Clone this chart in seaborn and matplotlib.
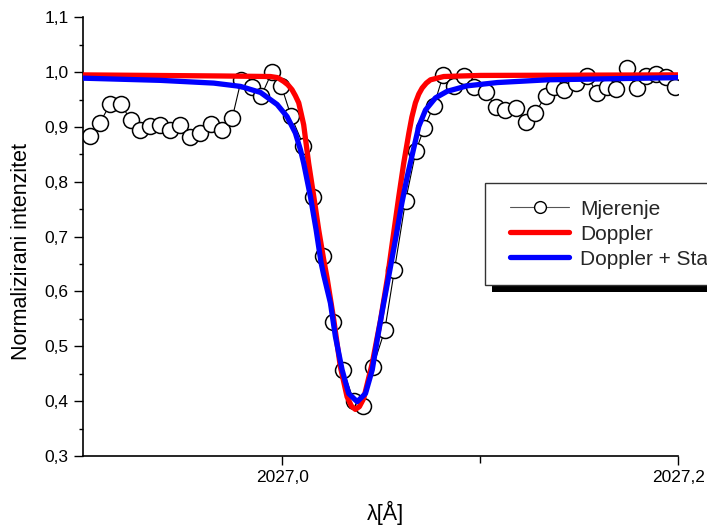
import numpy as np
import matplotlib
matplotlib.use('Agg')
import matplotlib.pyplot as plt
from matplotlib.ticker import FixedLocator, FuncFormatter
from matplotlib.patches import Rectangle
from matplotlib.lines import Line2D
from matplotlib.legend_handler import HandlerLine2D
import seaborn as sns

# measured points (Mjerenje)
lam_meas = [2026.9028, 2026.9079, 2026.9133, 2026.9187, 2026.9237, 2026.9284, 2026.9331, 2026.9382,
            2026.9432, 2026.9483, 2026.9533, 2026.9584, 2026.9640, 2026.9697, 2026.9748, 2026.9793,
            2026.9846, 2026.9894, 2026.9950, 2026.9997, 2027.0045, 2027.0108, 2027.0157, 2027.0207,
            2027.0256, 2027.0308, 2027.0362, 2027.0407, 2027.0458, 2027.0518, 2027.0567, 2027.0623,
            2027.0676, 2027.0717, 2027.0766, 2027.0813, 2027.0869, 2027.0917, 2027.0968, 2027.1027,
            2027.1080, 2027.1125, 2027.1181, 2027.1229, 2027.1279, 2027.1330, 2027.1373, 2027.1423,
            2027.1484, 2027.1539, 2027.1590, 2027.1638, 2027.1688, 2027.1739, 2027.1789, 2027.1837,
            2027.1885, 2027.1938, 2027.1981]
int_meas = [0.884, 0.907, 0.942, 0.941, 0.912, 0.895, 0.902, 0.904, 0.895, 0.904,
            0.882, 0.889, 0.906, 0.895, 0.916, 0.985, 0.972, 0.956, 1.001, 0.974,
            0.920, 0.866, 0.773, 0.665, 0.545, 0.457, 0.400, 0.391, 0.462, 0.529,
            0.639, 0.765, 0.857, 0.898, 0.939, 0.994, 0.975, 0.993, 0.972, 0.963,
            0.936, 0.931, 0.934, 0.909, 0.926, 0.957, 0.972, 0.967, 0.980, 0.993,
            0.962, 0.973, 0.969, 1.007, 0.971, 0.993, 0.996, 0.991, 0.973]

# Doppler fit (red)
lam_dop = [2026.8995, 2026.9690, 2026.9941, 2026.9977, 2027.0008, 2027.0029, 2027.0050, 2027.0067,
           2027.0084, 2027.0096, 2027.0109, 2027.0134, 2027.0160, 2027.0185, 2027.0210, 2027.0227,
           2027.0261, 2027.0294, 2027.0328, 2027.0350, 2027.0370, 2027.0390, 2027.0412, 2027.0455,
           2027.0497, 2027.0532, 2027.0556, 2027.0589, 2027.0614, 2027.0640, 2027.0655, 2027.0673,
           2027.0690, 2027.0707, 2027.0728, 2027.0749, 2027.0816, 2027.0906, 2027.1002, 2027.2000]
int_dop = [0.995, 0.993, 0.992, 0.990, 0.983, 0.977, 0.968, 0.957,
           0.944, 0.925, 0.904, 0.834, 0.773, 0.712, 0.658, 0.625,
           0.548, 0.463, 0.408, 0.391, 0.385, 0.390, 0.405, 0.469,
           0.548, 0.625, 0.688, 0.773, 0.834, 0.889, 0.918, 0.944,
           0.960, 0.971, 0.980, 0.986, 0.992, 0.993, 0.994, 0.995]

# Doppler + Stark fit (blue)
lam_voigt = [2026.8995, 2026.9386, 2026.9655, 2026.9790, 2026.9891, 2026.9975, 2027.0025, 2027.0067,
             2027.0093, 2027.0109, 2027.0143, 2027.0172, 2027.0197, 2027.0210, 2027.0244, 2027.0269,
             2027.0303, 2027.0336, 2027.0379, 2027.0421, 2027.0455, 2027.0483, 2027.0513, 2027.0544,
             2027.0575, 2027.0604, 2027.0632, 2027.0665, 2027.0690, 2027.0724, 2027.0774, 2027.0833,
             2027.0934, 2027.1086, 2027.1339, 2027.2000]
int_voigt = [0.989, 0.985, 0.980, 0.974, 0.963, 0.941, 0.919, 0.889,
             0.858, 0.834, 0.773, 0.712, 0.652, 0.630, 0.579, 0.518,
             0.457, 0.414, 0.399, 0.414, 0.457, 0.518, 0.579, 0.639,
             0.700, 0.760, 0.810, 0.862, 0.901, 0.931, 0.953, 0.965,
             0.975, 0.981, 0.986, 0.990]

x_ticks = [2027.0, 2027.2]
x_minor = [2027.1]
y_ticks = [0.3, 0.4, 0.5, 0.6, 0.7, 0.8, 0.9, 1.0, 1.1]
y_minor = [0.35, 0.45, 0.55, 0.65, 0.75, 0.85, 0.95, 1.05]
labels = ['Mjerenje', 'Doppler', 'Doppler + Stark']

sns.set_theme(style='ticks')
plt.rcParams['font.family'] = ['Liberation Sans', 'DejaVu Sans']
plt.rcParams['axes.linewidth'] = 1.2

fig = plt.figure(figsize=(7.07, 5.30), dpi=100)
ax = fig.add_axes([83 / 707, 74 / 530, 595.3 / 707, 438.7 / 530])

sns.lineplot(x=lam_meas, y=int_meas, ax=ax, sort=False, estimator=None,
             color='black', linewidth=0.8, marker='o', markersize=11.5,
             markerfacecolor='white', markeredgecolor='black', markeredgewidth=1.1,
             zorder=2)
sns.lineplot(x=lam_dop, y=int_dop, ax=ax, sort=False, estimator=None,
             color='#ff0000', linewidth=3.8, zorder=3)
sns.lineplot(x=lam_voigt, y=int_voigt, ax=ax, sort=False, estimator=None,
             color='#0000ff', linewidth=3.8, zorder=4)

ax.set_xlim(2026.8995, 2027.2)
ax.set_ylim(0.3, 1.1)
sns.despine(ax=ax)
for s in ['left', 'bottom']:
    ax.spines[s].set_color('black')

comma = FuncFormatter(lambda v, p: f'{v:.1f}'.replace('.', ','))
ax.xaxis.set_major_locator(FixedLocator(x_ticks))
ax.xaxis.set_minor_locator(FixedLocator(x_minor))
ax.yaxis.set_major_locator(FixedLocator(y_ticks))
ax.yaxis.set_minor_locator(FixedLocator(y_minor))
ax.xaxis.set_major_formatter(comma)
ax.yaxis.set_major_formatter(comma)
ax.tick_params(which='major', direction='out', length=6.3, width=1.0, color='black',
               labelcolor='black', labelsize=12.5, pad=4)
ax.tick_params(which='minor', direction='out', length=3.2, width=1.0, color='black')
ax.tick_params(axis='x', which='minor', length=4.8)

ax.set_xlabel('λ[Å]', fontsize=15.5, va='center', color='black')
ax.xaxis.set_label_coords(0.5075, -0.13)
ax.set_ylabel('Normalizirani intenzitet', fontsize=15.5, va='center', color='black')
ax.yaxis.set_label_coords(-0.103, 0.467)

handles = [
    Line2D([], [], color='#555555', linewidth=0.8, marker='o', markersize=8.5,
           markerfacecolor='white', markeredgecolor='black', markeredgewidth=1.0),
    Line2D([], [], color='#ff0000', linewidth=3.8),
    Line2D([], [], color='#0000ff', linewidth=3.8),
]
leg = ax.legend(handles=handles, labels=labels, loc='upper left',
                bbox_to_anchor=(485 / 707, 1 - 183 / 530), bbox_transform=fig.transFigure,
                borderaxespad=0, fontsize=15, frameon=True, fancybox=False, framealpha=1,
                edgecolor='#333333', handlelength=3.24, handletextpad=0.53,
                labelspacing=0.29, borderpad=0.8,
                handler_map={Line2D: HandlerLine2D(xpad=0.4)})
leg.get_frame().set_linewidth(1.0)

# black drop shadow under the legend box
fig.canvas.draw()
bb = leg.get_frame().get_window_extent()
shadow = Rectangle((bb.x0 + 7, bb.y0 - 7), bb.width, bb.height, transform=None,
                   facecolor='black', edgecolor='none', zorder=4.9, clip_on=False)
ax.add_artist(shadow)

fig.savefig('out.png', dpi=100)
